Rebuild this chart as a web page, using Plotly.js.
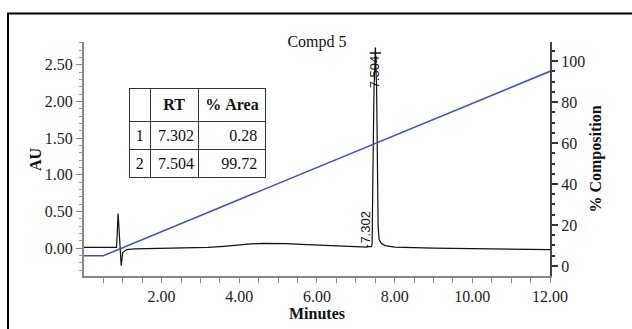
<!DOCTYPE html>
<html>
<head>
<meta charset="utf-8">
<script src="https://cdn.plot.ly/plotly-3.0.1.min.js"></script>
<style>html,body{margin:0;padding:0;background:#fff;}#chart{width:632px;height:329px;}</style>
</head>
<body>
<div id="chart"></div>
<script>
// Chromatogram signal (minutes, AU)
const timeMin = [0, 0.84, 0.88, 0.92, 0.96, 1.0, 1.1, 1.3, 2.0, 2.8, 3.2, 3.6, 4.0, 4.3, 4.6, 4.9, 5.2, 5.6, 6.0, 6.5, 7.0, 7.29, 7.302, 7.32, 7.40, 7.42, 7.44, 7.47, 7.504, 7.535, 7.56, 7.575, 7.6, 7.65, 7.75, 8.0, 9.0, 10.0, 11.0, 12.0];
const absorbanceAU = [0.01, 0.01, 0.47, 0.01, -0.24, -0.06, -0.02, -0.01, -0.005, 0.003, 0.01, 0.025, 0.045, 0.057, 0.064, 0.065, 0.061, 0.052, 0.042, 0.03, 0.02, 0.015, 0.03, 0.02, 0.02, 0.05, 1.0, 2.2, 2.66, 2.2, 1.0, 0.3, 0.12, 0.07, 0.035, 0.015, 0.0, -0.005, -0.012, -0.02];
// Gradient (% composition)
const gradTime = [0, 0.5, 12];
const gradPct = [5, 5, 95];
// Peak table
const peakNum = ['1', '2'];
const peakRT = [7.302, 7.504];
const peakArea = [0.28, 99.72];
const peakLabelText = ['7.302', '7.504'];
// Axis ticks
const xTickVals = [2, 4, 6, 8, 10, 12];
const xTickText = ['2.00', '4.00', '6.00', '8.00', '10.00', '12.00'];

function signalAt(t) {
  let best = 0, bd = Infinity;
  for (let i = 0; i < timeMin.length; i++) {
    const d = Math.abs(timeMin[i] - t);
    if (d < bd) { bd = d; best = i; }
  }
  return absorbanceAU[best];
}

const serif = 'Liberation Serif, Times New Roman, serif';
const sans = 'Liberation Sans, Arial, sans-serif';

const traces = [
  {x: timeMin, y: absorbanceAU, type: 'scatter', mode: 'lines', line: {color: '#111', width: 1.2}, xaxis: 'x', yaxis: 'y', hoverinfo: 'skip'},
  {x: gradTime, y: gradPct, type: 'scatter', mode: 'lines', line: {color: '#3d55b5', width: 1.6}, xaxis: 'x', yaxis: 'y2', hoverinfo: 'skip'},
  {x: [peakRT[1]], y: [signalAt(peakRT[1])], type: 'scatter', mode: 'markers', marker: {symbol: 'cross-thin', size: 8, line: {color: '#111', width: 1.5}}, xaxis: 'x', yaxis: 'y', hoverinfo: 'skip', cliponaxis: false},
  {
    type: 'table',
    domain: {x: [0.097, 0.39], y: [0.40, 0.802]},
    columnwidth: [21, 49, 67],
    header: {
      values: ['', '<b>RT</b>', '<b>%\u00a0Area</b>'],
      align: ['center', 'center', 'center'],
      height: 29,
      line: {color: '#333', width: 1},
      fill: {color: '#fff'},
      font: {family: serif, size: 16, color: '#111'}
    },
    cells: {
      values: [peakNum, peakRT.map(v => v.toFixed(3)), peakArea.map(v => v.toFixed(2))],
      align: ['center', 'left', 'right'],
      height: 28,
      line: {color: '#333', width: 1},
      fill: {color: '#fff'},
      font: {family: serif, size: 16, color: '#111'}
    }
  }
];

const annotations = [
  {x: peakRT[1], y: signalAt(peakRT[1]) - 0.25, xref: 'x', yref: 'y', text: peakLabelText[1], textangle: -90, showarrow: false, xanchor: 'center', yanchor: 'middle', xshift: -1.5, font: {family: sans, size: 13, color: '#111'}},
  {x: peakRT[0], y: signalAt(peakRT[0]) + 0.25, xref: 'x', yref: 'y', text: peakLabelText[0], textangle: -90, showarrow: false, xanchor: 'center', yanchor: 'middle', xshift: -1.5, font: {family: sans, size: 13, color: '#111'}},
  {x: -0.105, y: 0.5, xref: 'paper', yref: 'paper', text: '<b>AU</b>', textangle: -90, showarrow: false, xanchor: 'center', yanchor: 'middle', font: {family: serif, size: 16, color: '#111'}}
];

const layout = {
  width: 632, height: 329,
  margin: {l: 84, r: 82, t: 42, b: 53},
  paper_bgcolor: '#fff', plot_bgcolor: '#fff',
  showlegend: false,
  title: {text: 'Compd 5', x: 0.5, xref: 'paper', y: 1 - 41.7/329, yref: 'container', yanchor: 'middle', xanchor: 'center', font: {family: serif, size: 16, color: '#111'}},
  xaxis: {
    range: [0.002, 12], tickmode: 'array', tickvals: xTickVals, ticktext: xTickText,
    ticks: 'outside', ticklen: 5, tickwidth: 1, tickcolor: '#888',
    minor: {tickmode: 'linear', tick0: 0, dtick: 0.5, ticks: 'outside', ticklen: 5, tickcolor: '#888', showgrid: false},
    showline: true, linecolor: '#888', linewidth: 2, showgrid: false, zeroline: false,
    tickfont: {family: serif, size: 16, color: '#222'},
    title: {text: '<b>Minutes</b>', font: {family: serif, size: 16, color: '#111'}, standoff: 2}
  },
  yaxis: {
    range: [-0.38, 2.81], tick0: 0, dtick: 0.5, tickformat: '.2f',
    ticks: 'outside', ticklen: 6, tickwidth: 1, tickcolor: '#888',
    minor: {dtick: 0.1, ticks: 'outside', ticklen: 3, tickcolor: '#999', showgrid: false},
    showline: true, linecolor: '#888', linewidth: 2, showgrid: false, zeroline: false,
    tickfont: {family: serif, size: 16, color: '#222'}
  },
  yaxis2: {
    overlaying: 'y', side: 'right', anchor: 'x',
    range: [-4.9, 109.3], tick0: 0, dtick: 20,
    ticks: 'outside', ticklen: 6, tickwidth: 2, tickcolor: '#333',
    minor: {dtick: 5, ticks: 'outside', ticklen: 3, tickwidth: 2, tickcolor: '#333', showgrid: false},
    showline: true, linecolor: '#444', linewidth: 2, showgrid: false, zeroline: false,
    tickfont: {family: serif, size: 16, color: '#222'},
    title: {text: '<b>% Composition</b>', font: {family: serif, size: 16, color: '#111'}, standoff: 6}
  },
  annotations: annotations,
  shapes: [
    {type: 'rect', xref: 'paper', yref: 'paper', x0: -0.1631, x1: 1.4, y0: -0.5, y1: 1.1218, line: {color: '#000', width: 2}, fillcolor: 'rgba(0,0,0,0)', layer: 'above'}
  ]
};

Plotly.newPlot('chart', traces, layout, {staticPlot: true, displayModeBar: false});
</script>
</body>
</html>
